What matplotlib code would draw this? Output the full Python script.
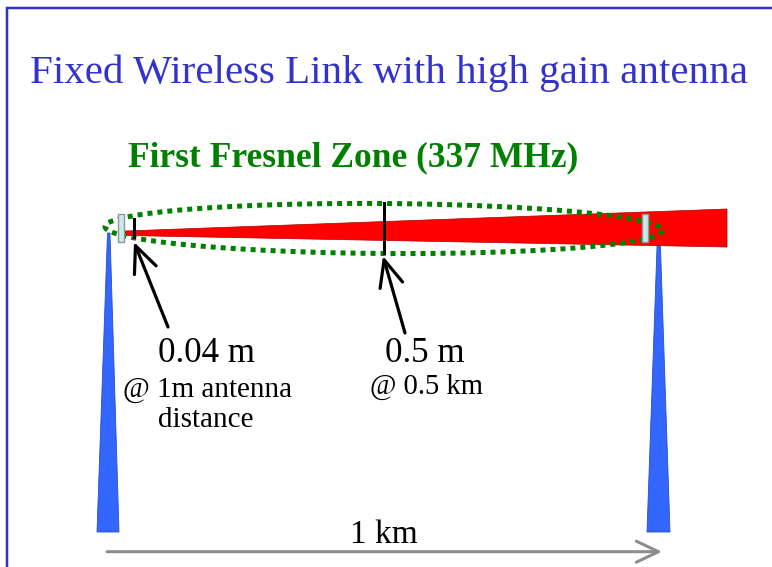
import numpy as np
import matplotlib
matplotlib.use("Agg")
import matplotlib.pyplot as plt
from matplotlib.patches import Polygon, Rectangle

# ---- content ----
title = "Fixed Wireless Link with high gain antenna"
subtitle = "First Fresnel Zone (337 MHz)"
freq_mhz = 337
link_km = 1
radius_labels = ["0.04 m", "0.5 m"]
radius_notes = [["@ 1m antenna", "distance"], ["@ 0.5 km"]]
distance_label = "1 km"

# ---- figure in pixel coordinates ----
W, H = 772, 567
fig = plt.figure(figsize=(W / 100, H / 100), dpi=100)
ax = fig.add_axes([0, 0, 1, 1])
ax.set_xlim(0, W)
ax.set_ylim(H, 0)
ax.axis("off")

PX = 0.72  # points per pixel
serif = ["Liberation Serif", "DejaVu Serif"]
blue_txt = "#3333CC"
green = "#008000"

# border
ax.plot([7, 7, W], [H, 8, 8], color=blue_txt, lw=2.5 * PX, solid_capstyle="butt",
        solid_joinstyle="miter", zorder=1)

# title and subtitle
ax.text(30, 83.5, title, family=serif, fontsize=29.5, color=blue_txt,
        ha="left", va="baseline")
ax.text(128, 166.7, subtitle, family=serif, fontsize=25.5, fontweight="bold",
        color=green, ha="left", va="baseline")

# towers
tower_col = "#3366FF"
for xs in ([97, 119, 110, 107.5], [647, 670, 660, 657.5]):
    ax.add_patch(Polygon([(xs[0], 532), (xs[1], 532), (xs[2], 233), (xs[3], 233)],
                         closed=True, facecolor=tower_col, edgecolor="#2a4fbf",
                         lw=0.6, zorder=2))

# red beam
ax.add_patch(Polygon([(125, 231), (727, 209), (727, 247), (125, 235.5)], closed=True,
                     facecolor="#FF0000", edgecolor="#b00000", lw=0.5, zorder=3))

# Fresnel ellipse (dotted)
cx, cy, a, b = 383.5, 228.5, 278.5, 25
theta = np.deg2rad(0.4)
t = np.linspace(0, 2 * np.pi, 800)
ex = cx + a * np.cos(t) * np.cos(theta) - b * np.sin(t) * np.sin(theta)
ey = cy + a * np.cos(t) * np.sin(theta) + b * np.sin(t) * np.cos(theta)
ax.plot(ex, ey, color=green, lw=5 * PX, linestyle=(0, (1, 1)),
        dash_capstyle="butt", zorder=4)

# antennas
for x0 in (118, 642):
    ax.add_patch(Rectangle((x0, 214), 6, 28, facecolor="#CDE8EA", edgecolor="#8a9a9c",
                           lw=1.0, zorder=5))

# radius markers
ax.plot([134.3, 134.3], [219, 237], color="black", lw=3 * PX, zorder=6)
ax.plot([384.3, 384.3], [203, 253], color="black", lw=3 * PX, zorder=6)

# pointer arrows
arrow_kw = dict(arrowstyle="->,head_length=0.95,head_width=0.42", color="black",
                lw=3.2 * PX, shrinkA=0, shrinkB=0, mutation_scale=20)
ax.annotate("", xy=(134, 242), xytext=(168, 327), arrowprops=arrow_kw, zorder=6)
ax.annotate("", xy=(383, 256), xytext=(405, 333), arrowprops=arrow_kw, zorder=6)

# labels
ax.text(158, 362, radius_labels[0], family=serif, fontsize=25.2, ha="left", va="baseline")
ax.text(123, 396.5, radius_notes[0][0], family=serif, fontsize=21, ha="left", va="baseline")
ax.text(158, 427, radius_notes[0][1], family=serif, fontsize=21, ha="left", va="baseline")
ax.text(385, 361.7, radius_labels[1], family=serif, fontsize=25.2, ha="left", va="baseline")
ax.text(370, 393.5, radius_notes[1][0], family=serif, fontsize=20.6, ha="left", va="baseline")

# distance arrow
gray_kw = dict(arrowstyle="->,head_length=0.8,head_width=0.38", color="#8C8C8C",
               lw=3 * PX, shrinkA=0, shrinkB=0, mutation_scale=20)
ax.annotate("", xy=(662, 551.7), xytext=(107, 551.7), arrowprops=gray_kw)
ax.text(350.5, 542.7, distance_label, family=serif, fontsize=24, ha="left", va="baseline")

fig.savefig("out.png", dpi=100)
